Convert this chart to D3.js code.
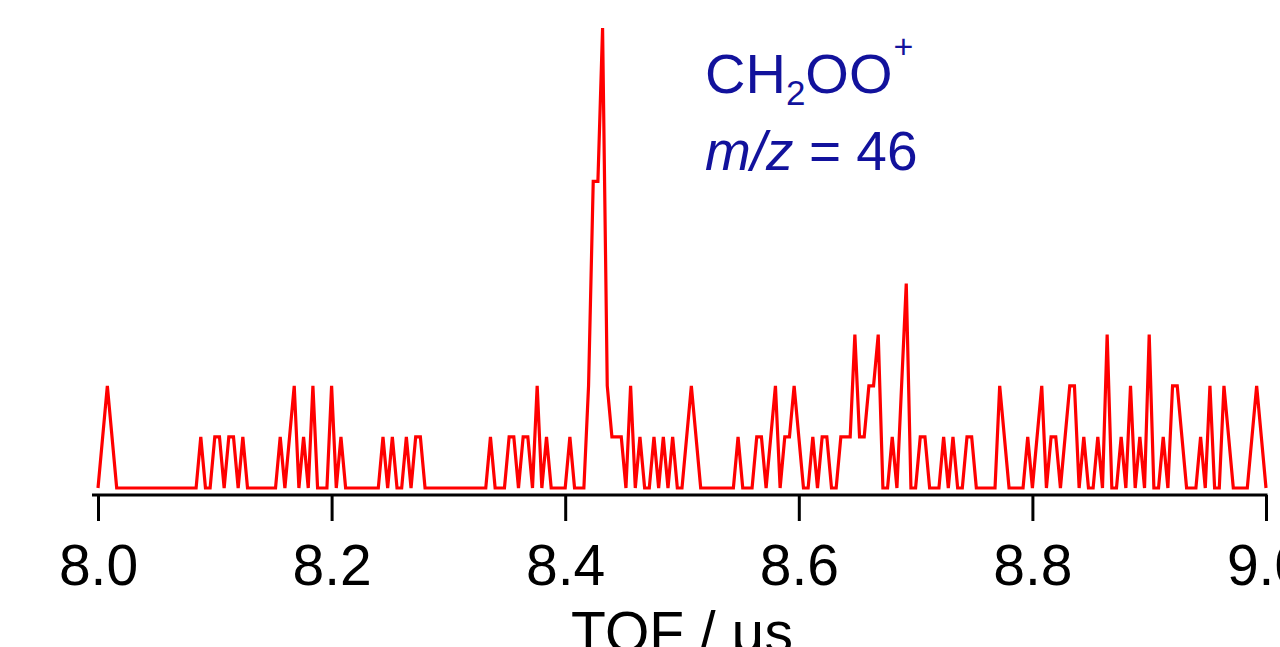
<!DOCTYPE html>
<html>
<head>
<meta charset="utf-8">
<script src="https://cdn.jsdelivr.net/npm/d3@7"></script>
<style>
  body { margin: 0; background: #fff; }
  svg { display: block; font-family: "Liberation Sans", Arial, sans-serif; }
</style>
</head>
<body>
<div id="chart"></div>
<script>
// TOF bins: 8.000 us onwards, 4 ns apart
const tofStart = 8.0;
const tofStep = 0.004;

// ion counts per bin
const counts = [
  0, 1, 2, 1, 0, 0, 0, 0, 0, 0,
  0, 0, 0, 0, 0, 0, 0, 0, 0, 0,
  0, 0, 1, 0, 0, 1, 1, 0, 1, 1,
  0, 1, 0, 0, 0, 0, 0, 0, 0, 1,
  0, 1, 2, 0, 1, 0, 2, 0, 0, 0,
  2, 0, 1, 0, 0, 0, 0, 0, 0, 0,
  0, 1, 0, 1, 0, 0, 1, 0, 1, 1,
  0, 0, 0, 0, 0, 0, 0, 0, 0, 0,
  0, 0, 0, 0, 1, 0, 0, 0, 1, 1,
  0, 1, 1, 0, 2, 0, 1, 0, 0, 0,
  0, 1, 0, 0, 0, 2, 6, 6, 9, 2,
  1, 1, 1, 0, 2, 0, 1, 0, 0, 1,
  0, 1, 0, 1, 0, 0, 1, 2, 1, 0,
  0, 0, 0, 0, 0, 0, 0, 1, 0, 0,
  0, 1, 1, 0, 1, 2, 0, 1, 1, 2,
  1, 0, 0, 1, 0, 1, 1, 0, 0, 1,
  1, 1, 3, 1, 1, 2, 2, 3, 0, 0,
  1, 0, 2, 4, 0, 0, 1, 1, 0, 0,
  0, 1, 0, 1, 0, 0, 1, 1, 0, 0,
  0, 0, 0, 2, 1, 0, 0, 0, 0, 1,
  0, 1, 2, 0, 1, 1, 0, 1, 2, 2,
  0, 1, 0, 0, 1, 0, 3, 0, 0, 1,
  0, 2, 0, 1, 0, 3, 0, 0, 1, 0,
  2, 2, 1, 0, 0, 0, 1, 0, 2, 0,
  0, 2, 1, 0, 0, 0, 0, 1, 2, 1,
  0
];

const xTicks = [8.0, 8.2, 8.4, 8.6, 8.8, 9.0];
const xTitle = "TOF / \u03bcs";

const width = 1280;
const height = 647;
const axisY = 495;
const ink = "#12129c";

const tof = counts.map((_, i) => tofStart + i * tofStep);

const x = d3.scaleLinear().domain([8.0, 9.0]).range([98, 1266]);
const y = d3.scaleLinear().domain([0, 9]).range([488, 28]);

const svg = d3
  .select("#chart")
  .append("svg")
  .attr("width", width)
  .attr("height", height);

svg.append("rect").attr("width", width).attr("height", height).attr("fill", "#fff");

// trace
svg
  .append("path")
  .datum(counts)
  .attr("fill", "none")
  .attr("stroke", "#ff0000")
  .attr("stroke-width", 3.2)
  .attr("d", d3.line().x((d, i) => x(tof[i])).y((d) => y(d)));

// bottom axis
const gx = svg
  .append("g")
  .attr("transform", `translate(0,${axisY})`)
  .call(
    d3.axisBottom(x)
      .tickValues(xTicks)
      .tickFormat(d3.format(".1f"))
      .tickSize(26)
      .tickSizeOuter(0)
  );

gx.select(".domain")
  .attr("d", `M${x.range()[0] - 6},0H${x.range()[1] + 1.5}`)
  .attr("stroke", "#000")
  .attr("stroke-width", 3);

gx.selectAll(".tick line").attr("stroke", "#000").attr("stroke-width", 3);

gx.selectAll(".tick text")
  .attr("y", 90)
  .attr("dy", 0)
  .attr("fill", "#000")
  .attr("font-size", 57)
  .attr("font-family", "'Liberation Sans', Arial, sans-serif");

svg
  .append("text")
  .attr("x", (x.range()[0] + x.range()[1]) / 2)
  .attr("y", 652)
  .attr("text-anchor", "middle")
  .attr("font-size", 57)
  .attr("fill", "#000")
  .text(xTitle);

// species label
const lab = svg.append("text").attr("x", 705).attr("y", 93).attr("fill", ink).attr("font-size", 56);
lab.append("tspan").text("CH");
lab.append("tspan").attr("font-size", 35).attr("dy", 12).text("2");
lab.append("tspan").attr("dy", -12).text("OO");
lab.append("tspan").attr("font-size", 34).attr("dx", 1).attr("dy", -35).text("+");

const mz = svg.append("text").attr("x", 705).attr("y", 170).attr("fill", ink).attr("font-size", 55);
mz.append("tspan").attr("font-style", "italic").text("m/z");
mz.append("tspan").text(" = 46");
</script>
</body>
</html>
